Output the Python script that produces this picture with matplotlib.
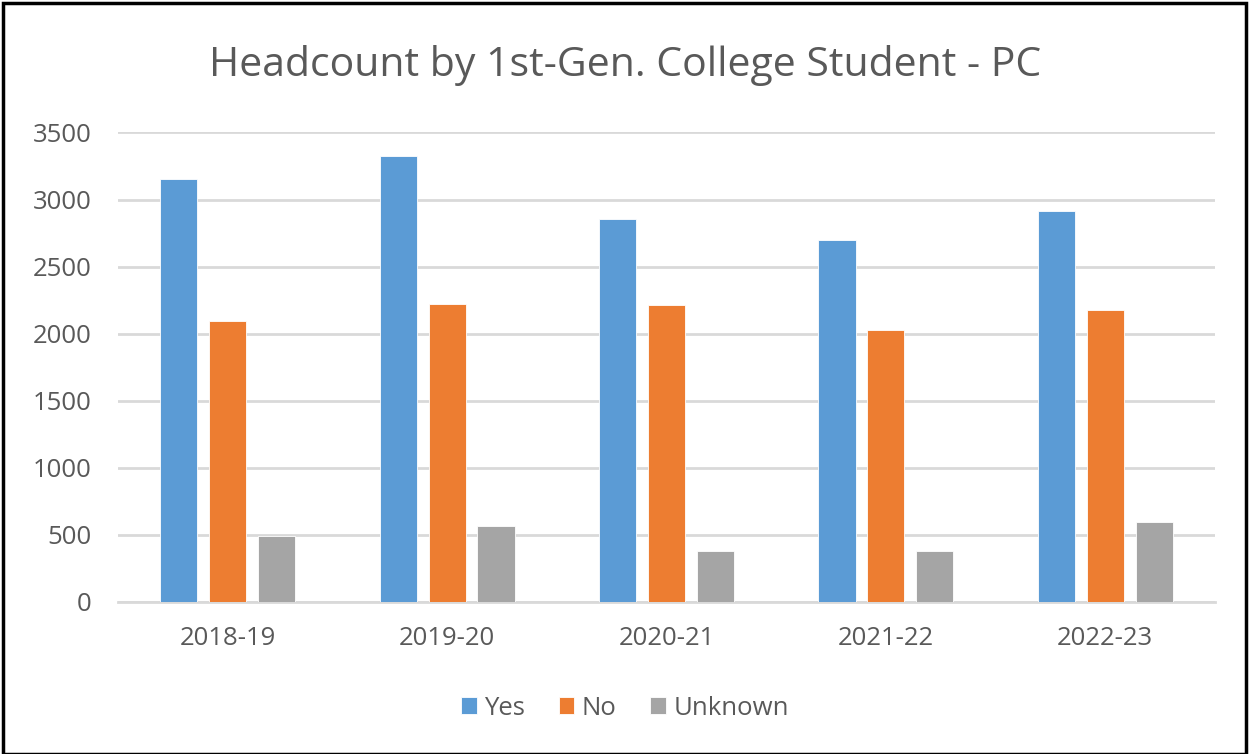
import numpy as np
import matplotlib.pyplot as plt
from matplotlib.patches import Rectangle

plt.rcParams['font.family'] = ['Open Sans', 'DejaVu Sans']

years = ['2018-19', '2019-20', '2020-21', '2021-22', '2022-23']
yes = [3155, 3325, 2855, 2695, 2915]
no = [2092, 2225, 2212, 2030, 2175]
unknown = [492, 563, 380, 380, 598]
series_names = ['Yes', 'No', 'Unknown']
colors = ['#5b9bd5', '#ed7d31', '#a5a5a5']
text_col = '#595959'

fig = plt.figure(figsize=(12.5, 7.54), dpi=100)
ax = fig.add_axes([0.0944, 0.2016, 0.8776, 0.6227])

x = np.arange(len(years))
w = 0.169
step = 0.223
for i, (vals, name, c) in enumerate(zip([yes, no, unknown], series_names, colors)):
    ax.bar(x + (i - 1) * step, vals, width=w, color=c, label=name, zorder=3,
           edgecolor='white', linewidth=0.6)

ax.set_xlim(-0.5, len(years) - 0.5)
ax.set_ylim(0, 3500)
ax.set_yticks(np.arange(0, 3501, 500))
ax.set_xticks(x)
ax.set_xticklabels(years)
ax.yaxis.grid(True, color='#d9d9d9', linewidth=2, zorder=0)
for s in ['top', 'right', 'left']:
    ax.spines[s].set_visible(False)
ax.spines['bottom'].set_color('#d9d9d9')
ax.spines['bottom'].set_linewidth(2)
ax.tick_params(axis='both', length=0, labelsize=18.5, colors=text_col)
ax.tick_params(axis='y', pad=19)
ax.tick_params(axis='x', pad=17)

fig.text(0.5, 0.913, 'Headcount by 1st-Gen. College Student - PC', ha='center',
         va='center', fontsize=29.5, color=text_col)

ax.legend(loc='center', bbox_to_anchor=(0.5, 0.061), bbox_transform=fig.transFigure,
          ncol=3, frameon=False, fontsize=18.5, handlelength=0.6, handleheight=0.6,
          handletextpad=0.3, columnspacing=1.3, labelcolor=text_col)

fig.patches.append(Rectangle((0.002, 0.0), 0.995, 0.996, transform=fig.transFigure,
                             fill=False, edgecolor='black', linewidth=2.5))

fig.savefig('out.png', dpi=100, facecolor='white')
